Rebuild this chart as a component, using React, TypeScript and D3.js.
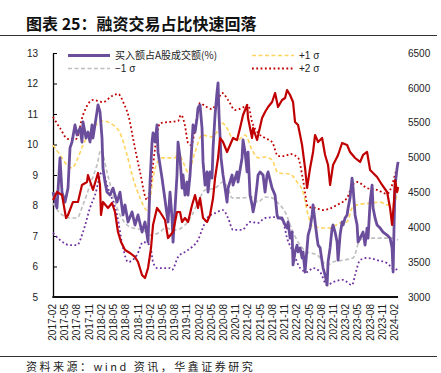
import React, { useEffect, useRef } from 'react';
import * as d3 from 'd3';

const W = 441;
const H = 373;

const title = '图表 25：融资交易占比快速回落';
const source = '资料来源：wind 资讯，华鑫证券研究';

const leftTicks = [5, 6, 7, 8, 9, 10, 11, 12, 13];
const rightTicks = [3000, 3500, 4000, 4500, 5000, 5500, 6000, 6500];
const xLabels = [
  '2017-02', '2017-05', '2017-08', '2017-11', '2018-02', '2018-05', '2018-08', '2018-11',
  '2019-02', '2019-05', '2019-08', '2019-11', '2020-02', '2020-05', '2020-08', '2020-11',
  '2021-02', '2021-05', '2021-08', '2021-11', '2022-02', '2022-05', '2022-08', '2022-11',
  '2023-02', '2023-05', '2023-08', '2023-11', '2024-02',
];

const legendNames = ['买入额占A股成交额(%)', '−1 σ', '+1 σ', '+2 σ'];

// [decimal year, value]
// 融资买入额占A股成交额 (%), left axis
const buyShare: [number, number][] = [
  [2017.104, 8.44], [2017.144, 8.18], [2017.185, 7.92], [2017.247, 9.56], [2017.288, 8.44], [2017.349, 8.11],
  [2017.411, 8.57], [2017.452, 9.89], [2017.493, 10.08], [2017.554, 10.64], [2017.595, 10.31], [2017.656, 10.54],
  [2017.697, 10.08], [2017.718, 10.74], [2017.779, 10.21], [2017.82, 10.41], [2017.861, 10.08], [2017.902, 10.64],
  [2017.922, 10.21], [2018.004, 11.07], [2018.025, 11.3], [2018.066, 11.07], [2018.107, 10.21], [2018.127, 9.23],
  [2018.168, 8.77], [2018.209, 8.44], [2018.271, 8.34], [2018.332, 8.57], [2018.414, 8.11], [2018.475, 8.44],
  [2018.537, 7.69], [2018.578, 8.02], [2018.639, 7.46], [2018.721, 7.79], [2018.782, 7.36], [2018.844, 7.69],
  [2018.926, 7.13], [2018.987, 7.46], [2019.028, 7.03], [2019.049, 6.8], [2019.09, 8.77], [2019.131, 10.08],
  [2019.151, 10.38], [2019.192, 10.08], [2019.233, 10.64], [2019.253, 9.75], [2019.335, 8.9], [2019.397, 8.18],
  [2019.458, 7.46], [2019.499, 8.44], [2019.54, 7.59], [2019.561, 6.8], [2019.602, 7.92], [2019.642, 9.0],
  [2019.663, 10.08], [2019.704, 9.56], [2019.745, 8.57], [2019.765, 9.0], [2019.806, 8.34], [2019.847, 8.77],
  [2019.868, 8.34], [2019.909, 9.0], [2019.95, 10.08], [2019.97, 10.64], [2020.011, 10.41], [2020.052, 10.87],
  [2020.072, 11.2], [2020.113, 11.3], [2020.154, 10.54], [2020.175, 9.43], [2020.216, 8.67], [2020.257, 9.1],
  [2020.277, 8.44], [2020.318, 9.1], [2020.359, 8.9], [2020.38, 9.89], [2020.421, 10.97], [2020.461, 11.72],
  [2020.482, 12.02], [2020.502, 10.97], [2020.543, 9.56], [2020.584, 9.0], [2020.625, 8.57], [2020.666, 8.11],
  [2020.687, 8.57], [2020.769, 9.0], [2020.789, 8.67], [2020.871, 9.1], [2020.891, 8.77], [2020.973, 9.56],
  [2020.994, 10.15], [2021.035, 9.75], [2021.076, 9.1], [2021.096, 9.75], [2021.137, 8.34], [2021.178, 8.02],
  [2021.199, 7.79], [2021.239, 8.11], [2021.28, 8.67], [2021.301, 9.0], [2021.342, 9.1], [2021.403, 9.0],
  [2021.444, 8.44], [2021.485, 9.0], [2021.506, 9.1], [2021.588, 8.57], [2021.649, 8.34], [2021.69, 7.69],
  [2021.71, 7.59], [2021.792, 7.59], [2021.854, 7.36], [2021.895, 7.26], [2021.915, 7.46], [2021.956, 6.93],
  [2021.997, 7.13], [2022.017, 6.05], [2022.058, 6.48], [2022.099, 6.7], [2022.12, 6.48], [2022.161, 6.61],
  [2022.202, 6.28], [2022.222, 6.48], [2022.263, 5.82], [2022.304, 6.61], [2022.325, 7.03], [2022.366, 7.26],
  [2022.407, 7.69], [2022.427, 8.02], [2022.468, 7.46], [2022.509, 6.93], [2022.53, 6.7], [2022.571, 6.61],
  [2022.612, 6.15], [2022.632, 5.95], [2022.673, 5.72], [2022.714, 5.39], [2022.734, 6.15], [2022.775, 6.61],
  [2022.816, 7.26], [2022.836, 7.36], [2022.877, 7.13], [2022.918, 6.8], [2022.939, 6.21], [2022.98, 7.03],
  [2023.021, 7.46], [2023.041, 7.36], [2023.082, 7.59], [2023.123, 7.69], [2023.144, 7.92], [2023.184, 8.25],
  [2023.225, 8.9], [2023.246, 8.57], [2023.287, 7.69], [2023.328, 7.36], [2023.348, 6.8], [2023.389, 6.93],
  [2023.45, 7.13], [2023.491, 6.7], [2023.532, 7.26], [2023.553, 6.93], [2023.594, 8.11], [2023.635, 8.67],
  [2023.655, 7.92], [2023.696, 7.59], [2023.737, 7.36], [2023.799, 7.26], [2023.86, 7.13], [2023.942, 7.03],
  [2024.003, 6.93], [2024.044, 6.61], [2024.065, 5.82], [2024.085, 7.36], [2024.106, 8.67], [2024.147, 9.23],
  [2024.167, 9.43],
];

// index level, right axis
const indexLevel: [number, number][] = [
  [2017.104, 4391], [2017.185, 4506], [2017.288, 4463], [2017.37, 4133], [2017.411, 4176], [2017.513, 4363],
  [2017.615, 4363], [2017.697, 4607], [2017.8, 4650], [2017.82, 4750], [2017.922, 4535], [2018.025, 4779],
  [2018.066, 4607], [2018.086, 4176], [2018.127, 4363], [2018.23, 4277], [2018.312, 4348], [2018.373, 4219],
  [2018.434, 3932], [2018.496, 3789], [2018.578, 3674], [2018.68, 3631], [2018.782, 3574], [2018.844, 3502],
  [2018.926, 3316], [2018.987, 3273], [2019.049, 3416], [2019.11, 3703], [2019.151, 4033], [2019.233, 4277],
  [2019.294, 4219], [2019.397, 4105], [2019.458, 3846], [2019.561, 3932], [2019.642, 4219], [2019.704, 4219],
  [2019.745, 4076], [2019.806, 4133], [2019.868, 4076], [2019.95, 4320], [2020.011, 4463], [2020.072, 4277],
  [2020.113, 4420], [2020.175, 4133], [2020.257, 4076], [2020.318, 4176], [2020.38, 4420], [2020.421, 4707],
  [2020.482, 4994], [2020.523, 5281], [2020.584, 5223], [2020.666, 5080], [2020.728, 5180], [2020.789, 5281],
  [2020.871, 5252], [2020.932, 5424], [2020.994, 5611], [2021.076, 5754], [2021.096, 5568], [2021.178, 5281],
  [2021.199, 5424], [2021.28, 5252], [2021.383, 5568], [2021.444, 5654], [2021.506, 5725], [2021.588, 5797],
  [2021.649, 5926], [2021.71, 5725], [2021.792, 5826], [2021.854, 5855], [2021.895, 5969], [2021.956, 5898],
  [2022.017, 5797], [2022.058, 5510], [2022.12, 5467], [2022.202, 5180], [2022.263, 4850], [2022.304, 4564],
  [2022.366, 4850], [2022.427, 5080], [2022.468, 5324], [2022.53, 5223], [2022.612, 5281], [2022.673, 5037],
  [2022.734, 4893], [2022.775, 4607], [2022.836, 4893], [2022.939, 5037], [2023.021, 5209], [2023.123, 5180],
  [2023.184, 5080], [2023.287, 4994], [2023.389, 4937], [2023.45, 5037], [2023.532, 5080], [2023.594, 4822],
  [2023.655, 4779], [2023.737, 4721], [2023.84, 4607], [2023.942, 4506], [2024.003, 4277], [2024.044, 4033],
  [2024.085, 4391], [2024.106, 4678], [2024.147, 4506], [2024.167, 4578],
];

const plus2: [number, number][] = [
  [2017.104, 10.9], [2017.247, 10.54], [2017.411, 10.18], [2017.574, 10.18], [2017.718, 10.97], [2017.922, 11.46],
  [2018.127, 11.39], [2018.312, 11.59], [2018.434, 11.66], [2018.557, 11.33], [2018.66, 10.87], [2018.741, 10.21],
  [2018.885, 9.1], [2019.028, 8.18], [2019.09, 8.51], [2019.151, 9.33], [2019.233, 10.31], [2019.294, 10.7],
  [2019.499, 10.74], [2019.663, 10.77], [2019.724, 10.97], [2019.806, 10.61], [2019.868, 10.05], [2019.929, 9.98],
  [2020.011, 10.48], [2020.113, 11.36], [2020.216, 11.26], [2020.359, 11.16], [2020.461, 11.39], [2020.564, 11.69],
  [2020.687, 11.46], [2020.83, 11.13], [2020.973, 11.2], [2021.096, 11.3], [2021.178, 10.74], [2021.301, 10.38],
  [2021.444, 10.21], [2021.588, 10.08], [2021.71, 9.62], [2021.854, 9.62], [2021.956, 9.69], [2022.12, 9.56],
  [2022.222, 8.84], [2022.325, 7.95], [2022.468, 7.92], [2022.632, 7.85], [2022.918, 8.02], [2023.123, 8.25],
  [2023.225, 8.64], [2023.328, 8.77], [2023.532, 8.57], [2023.737, 8.51], [2023.942, 8.38], [2024.044, 8.67],
  [2024.106, 9.03], [2024.167, 9.33],
];

const plus1: [number, number][] = [
  [2017.104, 9.98], [2017.247, 9.66], [2017.39, 9.33], [2017.493, 9.23], [2017.595, 9.49], [2017.718, 9.98],
  [2017.82, 10.31], [2017.922, 10.54], [2018.127, 10.77], [2018.332, 10.64], [2018.475, 10.38], [2018.619, 9.66],
  [2018.741, 8.9], [2018.885, 8.25], [2019.028, 7.85], [2019.09, 8.18], [2019.151, 8.9], [2019.233, 9.39],
  [2019.335, 9.56], [2019.602, 9.56], [2019.663, 9.75], [2019.765, 9.43], [2019.868, 9.1], [2020.011, 9.75],
  [2020.154, 10.31], [2020.359, 10.25], [2020.461, 10.41], [2020.564, 10.7], [2020.687, 10.48], [2020.769, 10.21],
  [2020.891, 10.15], [2021.035, 10.31], [2021.178, 9.82], [2021.301, 9.56], [2021.444, 9.59], [2021.588, 9.49],
  [2021.71, 9.07], [2021.956, 9.03], [2022.099, 8.77], [2022.222, 8.44], [2022.325, 7.69], [2022.427, 7.3],
  [2022.775, 7.26], [2022.98, 7.43], [2023.123, 7.46], [2023.225, 7.92], [2023.328, 8.02], [2023.594, 8.08],
  [2023.799, 8.11], [2023.942, 8.02], [2024.065, 8.02], [2024.167, 8.57],
];

const minus1: [number, number][] = [
  [2017.104, 8.08], [2017.247, 7.75], [2017.452, 7.59], [2017.595, 7.59], [2017.718, 8.02], [2017.861, 8.67],
  [2018.004, 9.33], [2018.086, 9.82], [2018.209, 9.1], [2018.332, 8.34], [2018.475, 7.69], [2018.619, 7.36],
  [2018.741, 7.26], [2018.946, 7.2], [2019.09, 7.03], [2019.294, 7.13], [2019.397, 7.26], [2019.602, 7.2],
  [2019.806, 7.36], [2019.95, 7.69], [2020.072, 8.11], [2020.216, 8.51], [2020.421, 8.57], [2020.584, 8.77],
  [2020.687, 8.57], [2020.769, 8.25], [2020.973, 8.25], [2021.178, 8.28], [2021.301, 8.11], [2021.444, 8.28],
  [2021.588, 8.25], [2021.71, 8.08], [2021.854, 7.79], [2022.017, 7.13], [2022.161, 6.7], [2022.304, 6.48],
  [2022.509, 6.38], [2022.714, 6.05], [2022.836, 6.15], [2023.041, 6.21], [2023.246, 6.28], [2023.389, 6.87],
  [2023.532, 6.93], [2023.799, 6.93], [2024.003, 6.93], [2024.167, 6.87],
];

const minus2: [number, number][] = [
  [2017.104, 7.1], [2017.247, 6.87], [2017.452, 6.7], [2017.595, 6.7], [2017.718, 7.13], [2017.861, 7.92],
  [2017.963, 8.34], [2018.107, 9.1], [2018.23, 8.57], [2018.414, 7.69], [2018.537, 6.61], [2018.639, 6.15],
  [2018.823, 6.38], [2018.946, 6.8], [2019.09, 6.7], [2019.151, 6.15], [2019.233, 5.95], [2019.499, 5.95],
  [2019.54, 5.89], [2019.663, 6.31], [2019.806, 6.48], [2019.95, 6.64], [2020.072, 6.87], [2020.154, 7.2],
  [2020.277, 7.62], [2020.421, 7.75], [2020.584, 7.85], [2020.687, 7.59], [2020.789, 7.2], [2020.973, 7.2],
  [2021.137, 7.46], [2021.301, 7.43], [2021.444, 7.59], [2021.71, 7.62], [2021.813, 7.46], [2021.895, 6.93],
  [2022.017, 6.48], [2022.161, 5.95], [2022.304, 5.82], [2022.427, 5.95], [2022.571, 5.82], [2022.714, 5.39],
  [2022.836, 5.49], [2023.041, 5.56], [2023.225, 5.39], [2023.287, 5.72], [2023.389, 6.21], [2023.532, 6.28],
  [2023.737, 6.21], [2023.942, 6.11], [2024.106, 5.89], [2024.167, 5.95],
];

const numFont = '"Liberation Sans", Arial, sans-serif';
const cjkFont = '"Noto Sans CJK SC", "Liberation Sans", sans-serif';

const labelYear = (s: string) => +s.slice(0, 4) + (+s.slice(5, 7) - 1) / 12;

export default function App() {
  const ref = useRef<SVGSVGElement>(null);

  useEffect(() => {
    if (!ref.current) return;
    const svg = d3.select(ref.current);
    svg.selectAll('*').remove();

    const plotLeft = 53, plotRight = 398, plotTop = 53, plotBottom = 297;

    const x = d3.scaleLinear().domain([labelYear('2017-02'), labelYear('2024-02')]).range([52, 394]);
    const yL = d3.scaleLinear().domain([5, 13]).range([plotBottom, plotTop]);
    const yR = d3.scaleLinear().domain([3000, 6500]).range([plotBottom, plotTop]);

    // header and footer
    svg.append('text')
      .attr('x', 26).attr('y', 30)
      .style('font-family', cjkFont).style('font-weight', 700).style('font-size', '16px')
      .attr('fill', '#111')
      .text(title);
    svg.append('line').attr('x1', 0).attr('x2', 437).attr('y1', 35.5).attr('y2', 35.5)
      .attr('stroke', '#333').attr('stroke-width', 1);
    svg.append('line').attr('x1', 0).attr('x2', 437).attr('y1', 356.5).attr('y2', 356.5)
      .attr('stroke', '#333').attr('stroke-width', 1);
    svg.append('text')
      .attr('x', 26).attr('y', 371)
      .style('font-family', cjkFont).style('font-size', '11px').style('letter-spacing', '2.5px')
      .attr('fill', '#222')
      .text(source);

    // left axis
    const gL = svg.append('g').attr('transform', `translate(${plotLeft},0)`)
      .call(d3.axisLeft(yL).tickValues(leftTicks).tickSize(-4).tickSizeOuter(0).tickPadding(15));
    gL.select('.domain').attr('stroke', '#000').attr('stroke-width', 1.3);
    gL.selectAll('.tick line').attr('stroke', '#000').attr('stroke-width', 1);
    gL.selectAll('text').style('font-family', numFont).style('font-size', '10px').attr('fill', '#222');

    // right axis (labels only)
    const gR = svg.append('g').attr('transform', `translate(${plotRight},0)`)
      .call(d3.axisRight(yR).tickValues(rightTicks).tickFormat(d3.format('d')).tickSize(0).tickPadding(10));
    gR.select('.domain').remove();
    gR.selectAll('text').style('font-family', numFont).style('font-size', '10px').attr('fill', '#222');

    // bottom axis
    const gB = svg.append('g').attr('transform', `translate(0,${plotBottom})`)
      .call(d3.axisBottom(x).tickValues(xLabels.map(labelYear)).tickFormat((_, i) => xLabels[i]).tickSize(0));
    gB.select('.domain').remove();
    gB.selectAll('text')
      .attr('transform', 'rotate(-90)')
      .attr('x', -7).attr('y', 0).attr('dy', '0.35em')
      .attr('text-anchor', 'end')
      .style('font-family', numFont).style('font-size', '10px').attr('fill', '#222');
    svg.append('line').attr('x1', plotLeft - 0.6).attr('x2', plotRight).attr('y1', plotBottom).attr('y2', plotBottom)
      .attr('stroke', '#111').attr('stroke-width', 2);

    const lineL = d3.line<[number, number]>().x(d => x(d[0])).y(d => yL(d[1]));
    const smoothL = d3.line<[number, number]>().x(d => x(d[0])).y(d => yL(d[1])).curve(d3.curveMonotoneX);
    const lineR = d3.line<[number, number]>().x(d => x(d[0])).y(d => yR(d[1]));

    const draw = (path: string | null, color: string, width: number, dash?: string) => {
      const p = svg.append('path').attr('d', path ?? '').attr('fill', 'none')
        .attr('stroke', color).attr('stroke-width', width).attr('stroke-linejoin', 'round');
      if (dash) p.attr('stroke-dasharray', dash);
    };

    draw(smoothL(minus1), '#bfbfbf', 1.6, '4,2.5');
    draw(smoothL(plus1), '#ffd45e', 1.6, '4,2.5');
    draw(smoothL(plus2), '#c00000', 1.8, '1.8,2.5');
    draw(smoothL(minus2), '#7030a0', 1.8, '1.8,2.5');
    draw(lineL(buyShare), '#6b4e9b', 2.8);
    draw(lineR(indexLevel), '#c00000', 2.2);

    // legend
    const legend = svg.append('g');
    const items = [
      { x: 68, y: 55.5, color: '#6b4e9b', width: 3, dash: null as string | null, font: cjkFont },
      { x: 68, y: 68.5, color: '#bfbfbf', width: 1.6, dash: '4,2.5', font: numFont },
      { x: 252, y: 55.5, color: '#ffd45e', width: 1.6, dash: '4,2.5', font: numFont },
      { x: 252, y: 68.5, color: '#c00000', width: 1.8, dash: '1.8,2.5', font: numFont },
    ];
    items.forEach((it, i) => {
      const l = legend.append('line')
        .attr('x1', it.x).attr('x2', it.x + 42).attr('y1', it.y).attr('y2', it.y)
        .attr('stroke', it.color).attr('stroke-width', it.width);
      if (it.dash) l.attr('stroke-dasharray', it.dash);
      legend.append('text')
        .attr('x', it.x + 47).attr('y', it.y).attr('dy', '0.35em')
        .style('font-family', it.font).style('font-size', '10px').attr('fill', '#222')
        .text(legendNames[i]);
    });
  }, []);

  return (
    <svg
      ref={ref}
      width={W}
      height={H}
      style={{ position: 'absolute', left: 0, top: 0, background: '#fff' }}
    />
  );
}
